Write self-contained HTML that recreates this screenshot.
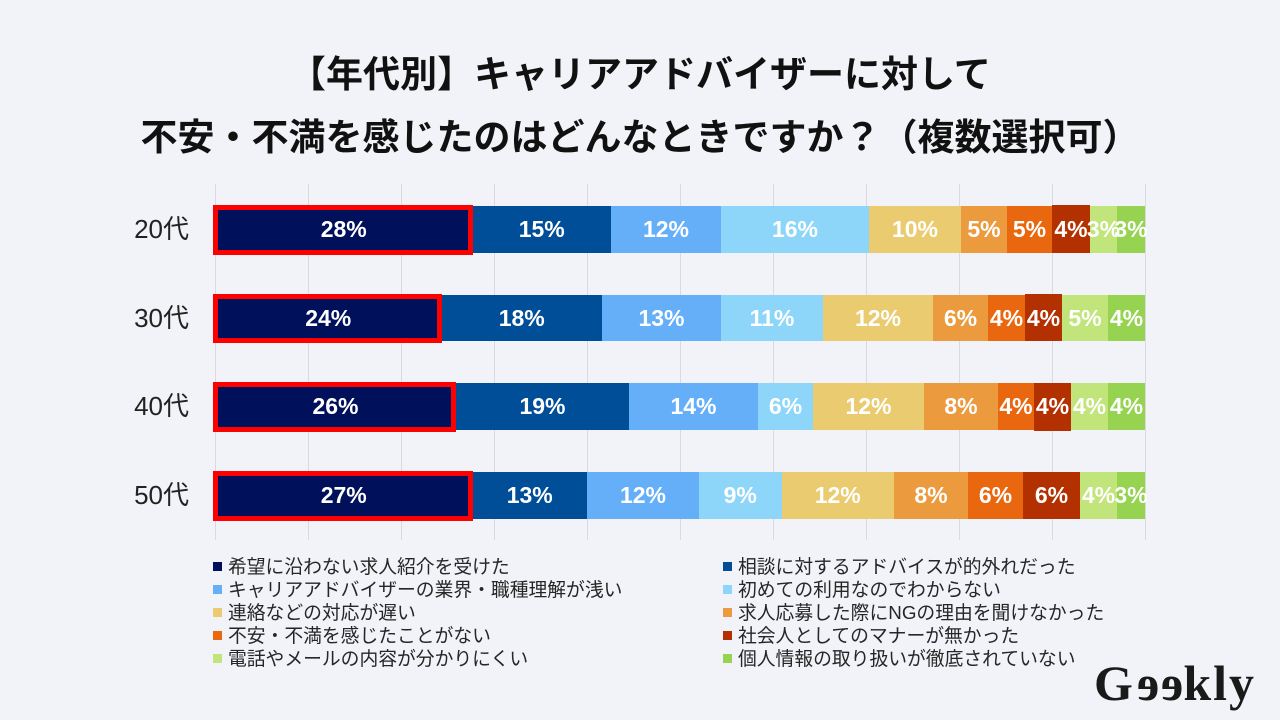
<!DOCTYPE html>
<html lang="ja">
<head>
<meta charset="utf-8">
<style>
  html,body{margin:0;padding:0;}
  body{width:1280px;height:720px;background:#f2f3f8;position:relative;overflow:hidden;
    font-family:"Liberation Sans","Noto Sans CJK JP",sans-serif;}
  .t{position:absolute;left:0;width:1280px;text-align:center;font-size:37px;font-weight:bold;color:#111;line-height:44px;white-space:nowrap;}
  .g{position:absolute;top:184px;height:356px;width:1px;background:#d9d9de;}
  .s{position:absolute;height:46.5px;}
  .l{position:absolute;color:#fff;font-weight:bold;font-size:23px;line-height:46.5px;height:46.5px;transform:translateX(-50%);white-space:nowrap;}
  .r{position:absolute;box-sizing:border-box;border:5px solid #ff0000;}
  .y{position:absolute;left:100px;width:89px;text-align:right;font-size:26px;color:#222;line-height:46.5px;}
  .lg{position:absolute;font-size:18.8px;color:#262626;line-height:22px;white-space:nowrap;}
  .m{position:absolute;width:9px;height:9px;}
  .logo{position:absolute;left:1094px;top:648px;font-family:"Liberation Serif",serif;font-weight:bold;font-size:50px;color:#1a1a1a;letter-spacing:2px;line-height:70px;}
  .logo span{display:inline-block;transform:scaleX(-1);}
</style>
</head>
<body>
<div class="t" style="top:53px;">【年代別】キャリアアドバイザーに対して</div>
<div class="t" style="top:116px;">不安・不満を感じたのはどんなときですか？（複数選択可）</div>

<!-- gridlines -->
<div class="g" style="left:215px"></div>
<div class="g" style="left:308px"></div>
<div class="g" style="left:401px"></div>
<div class="g" style="left:494px"></div>
<div class="g" style="left:587px"></div>
<div class="g" style="left:680px"></div>
<div class="g" style="left:773px"></div>
<div class="g" style="left:866px"></div>
<div class="g" style="left:959px"></div>
<div class="g" style="left:1052px"></div>
<div class="g" style="left:1145px"></div>

<!-- y labels -->
<div class="y" style="top:206px">20代</div>
<div class="y" style="top:294.7px">30代</div>
<div class="y" style="top:383.3px">40代</div>
<div class="y" style="top:472px">50代</div>

<!-- Row 20代 -->
<div class="s" style="top:206px;left:215px;width:257.5px;background:#00105a"></div>
<div class="s" style="top:206px;left:472.5px;width:138.5px;background:#004d98"></div>
<div class="s" style="top:206px;left:611px;width:110px;background:#65aff8"></div>
<div class="s" style="top:206px;left:721px;width:148px;background:#8ed6f9"></div>
<div class="s" style="top:206px;left:869px;width:92px;background:#ebcb70"></div>
<div class="s" style="top:206px;left:961px;width:46px;background:#eb9b3d"></div>
<div class="s" style="top:206px;left:1007px;width:45px;background:#e9680f"></div>
<div class="s" style="top:205px;left:1052px;width:38px;height:47.5px;background:#b33000"></div>
<div class="s" style="top:206px;left:1090px;width:27px;background:#c1e47b"></div>
<div class="s" style="top:206px;left:1117px;width:28px;background:#95d351"></div>
<div class="r" style="left:213px;top:205px;width:259.5px;height:49.5px"></div>
<div class="l" style="top:206px;left:343.75px">28%</div>
<div class="l" style="top:206px;left:541.75px">15%</div>
<div class="l" style="top:206px;left:666px">12%</div>
<div class="l" style="top:206px;left:795px">16%</div>
<div class="l" style="top:206px;left:915px">10%</div>
<div class="l" style="top:206px;left:984px">5%</div>
<div class="l" style="top:206px;left:1029.5px">5%</div>
<div class="l" style="top:206px;left:1071px">4%</div>
<div class="l" style="top:206px;left:1103.5px">3%</div>
<div class="l" style="top:206px;left:1131px">3%</div>

<!-- Row 30代 -->
<div class="s" style="top:294.7px;left:215px;width:226.5px;background:#00105a"></div>
<div class="s" style="top:294.7px;left:441.5px;width:160.5px;background:#004d98"></div>
<div class="s" style="top:294.7px;left:602px;width:119px;background:#65aff8"></div>
<div class="s" style="top:294.7px;left:721px;width:102px;background:#8ed6f9"></div>
<div class="s" style="top:294.7px;left:823px;width:110px;background:#ebcb70"></div>
<div class="s" style="top:294.7px;left:933px;width:55px;background:#eb9b3d"></div>
<div class="s" style="top:294.7px;left:988px;width:37px;background:#e9680f"></div>
<div class="s" style="top:293.7px;left:1025px;width:37px;height:47.5px;background:#b33000"></div>
<div class="s" style="top:294.7px;left:1062px;width:46px;background:#c1e47b"></div>
<div class="s" style="top:294.7px;left:1108px;width:37px;background:#95d351"></div>
<div class="r" style="left:213px;top:293.7px;width:228.5px;height:49.5px"></div>
<div class="l" style="top:294.7px;left:328.25px">24%</div>
<div class="l" style="top:294.7px;left:521.75px">18%</div>
<div class="l" style="top:294.7px;left:661.5px">13%</div>
<div class="l" style="top:294.7px;left:772px">11%</div>
<div class="l" style="top:294.7px;left:878px">12%</div>
<div class="l" style="top:294.7px;left:960.5px">6%</div>
<div class="l" style="top:294.7px;left:1006.5px">4%</div>
<div class="l" style="top:294.7px;left:1043.5px">4%</div>
<div class="l" style="top:294.7px;left:1085px">5%</div>
<div class="l" style="top:294.7px;left:1126.5px">4%</div>

<!-- Row 40代 -->
<div class="s" style="top:383.3px;left:215px;width:241px;background:#00105a"></div>
<div class="s" style="top:383.3px;left:456px;width:173px;background:#004d98"></div>
<div class="s" style="top:383.3px;left:629px;width:129px;background:#65aff8"></div>
<div class="s" style="top:383.3px;left:758px;width:55px;background:#8ed6f9"></div>
<div class="s" style="top:383.3px;left:813px;width:111px;background:#ebcb70"></div>
<div class="s" style="top:383.3px;left:924px;width:74px;background:#eb9b3d"></div>
<div class="s" style="top:383.3px;left:998px;width:36px;background:#e9680f"></div>
<div class="s" style="top:383.3px;left:1034px;width:37px;height:47.5px;background:#b33000"></div>
<div class="s" style="top:383.3px;left:1071px;width:37px;background:#c1e47b"></div>
<div class="s" style="top:383.3px;left:1108px;width:37px;background:#95d351"></div>
<div class="r" style="left:213px;top:382.3px;width:243px;height:49.5px"></div>
<div class="l" style="top:383.3px;left:335.5px">26%</div>
<div class="l" style="top:383.3px;left:542.5px">19%</div>
<div class="l" style="top:383.3px;left:693.5px">14%</div>
<div class="l" style="top:383.3px;left:785.5px">6%</div>
<div class="l" style="top:383.3px;left:868.5px">12%</div>
<div class="l" style="top:383.3px;left:961px">8%</div>
<div class="l" style="top:383.3px;left:1016px">4%</div>
<div class="l" style="top:383.3px;left:1052.5px">4%</div>
<div class="l" style="top:383.3px;left:1089.5px">4%</div>
<div class="l" style="top:383.3px;left:1126.5px">4%</div>

<!-- Row 50代 -->
<div class="s" style="top:472px;left:215px;width:257.5px;background:#00105a"></div>
<div class="s" style="top:472px;left:472.5px;width:114.5px;background:#004d98"></div>
<div class="s" style="top:472px;left:587px;width:112px;background:#65aff8"></div>
<div class="s" style="top:472px;left:699px;width:82.5px;background:#8ed6f9"></div>
<div class="s" style="top:472px;left:781.5px;width:112.5px;background:#ebcb70"></div>
<div class="s" style="top:472px;left:894px;width:74px;background:#eb9b3d"></div>
<div class="s" style="top:472px;left:968px;width:55px;background:#e9680f"></div>
<div class="s" style="top:472px;left:1023px;width:57px;background:#b33000"></div>
<div class="s" style="top:472px;left:1080px;width:37px;background:#c1e47b"></div>
<div class="s" style="top:472px;left:1117px;width:28px;background:#95d351"></div>
<div class="r" style="left:213px;top:471px;width:259.5px;height:49.5px"></div>
<div class="l" style="top:472px;left:343.75px">27%</div>
<div class="l" style="top:472px;left:529.75px">13%</div>
<div class="l" style="top:472px;left:643px">12%</div>
<div class="l" style="top:472px;left:740.25px">9%</div>
<div class="l" style="top:472px;left:837.75px">12%</div>
<div class="l" style="top:472px;left:931px">8%</div>
<div class="l" style="top:472px;left:995.5px">6%</div>
<div class="l" style="top:472px;left:1051.5px">6%</div>
<div class="l" style="top:472px;left:1098.5px">4%</div>
<div class="l" style="top:472px;left:1131px">3%</div>

<!-- Legend left -->
<div class="m" style="left:213px;top:562px;background:#00105a"></div>
<div class="lg" style="left:228px;top:555.5px">希望に沿わない求人紹介を受けた</div>
<div class="m" style="left:213px;top:585px;background:#65aff8"></div>
<div class="lg" style="left:228px;top:578.5px">キャリアアドバイザーの業界・職種理解が浅い</div>
<div class="m" style="left:213px;top:608px;background:#ebcb70"></div>
<div class="lg" style="left:228px;top:601.5px">連絡などの対応が遅い</div>
<div class="m" style="left:213px;top:631px;background:#e9680f"></div>
<div class="lg" style="left:228px;top:624.5px">不安・不満を感じたことがない</div>
<div class="m" style="left:213px;top:654px;background:#c1e47b"></div>
<div class="lg" style="left:228px;top:647.5px">電話やメールの内容が分かりにくい</div>

<!-- Legend right -->
<div class="m" style="left:723px;top:562px;background:#004d98"></div>
<div class="lg" style="left:738px;top:555.5px">相談に対するアドバイスが的外れだった</div>
<div class="m" style="left:723px;top:585px;background:#8ed6f9"></div>
<div class="lg" style="left:738px;top:578.5px">初めての利用なのでわからない</div>
<div class="m" style="left:723px;top:608px;background:#eb9b3d"></div>
<div class="lg" style="left:738px;top:601.5px">求人応募した際にNGの理由を聞けなかった</div>
<div class="m" style="left:723px;top:631px;background:#b33000"></div>
<div class="lg" style="left:738px;top:624.5px">社会人としてのマナーが無かった</div>
<div class="m" style="left:723px;top:654px;background:#95d351"></div>
<div class="lg" style="left:738px;top:647.5px">個人情報の取り扱いが徹底されていない</div>

<div class="logo">G<span>e</span><span>e</span>kly</div>
</body>
</html>
